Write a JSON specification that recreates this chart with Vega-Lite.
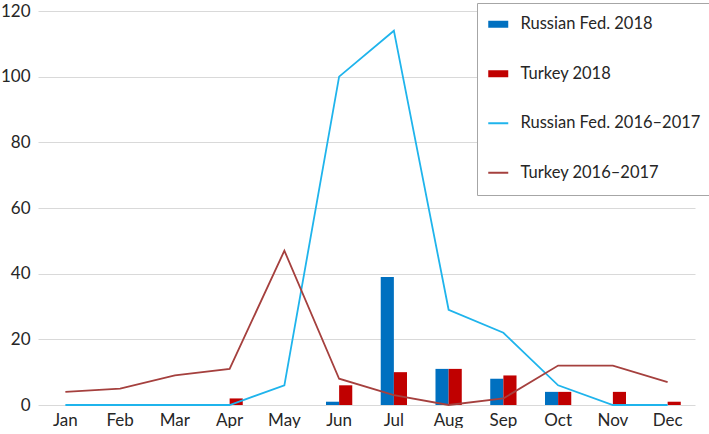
{
  "$schema": "https://vega.github.io/schema/vega-lite/v6.json",
  "width": 657,
  "height": 394,
  "padding": {"left": 0, "top": 2, "right": 0, "bottom": 0},
  "background": "white",
  "config": {"font": "Lato", "view": {"stroke": null}},
  "datasets": {
    "bars": [
      {"month": "Jan", "series": "Russian Fed. 2018", "value": 0},
      {"month": "Jan", "series": "Turkey 2018", "value": 0},
      {"month": "Feb", "series": "Russian Fed. 2018", "value": 0},
      {"month": "Feb", "series": "Turkey 2018", "value": 0},
      {"month": "Mar", "series": "Russian Fed. 2018", "value": 0},
      {"month": "Mar", "series": "Turkey 2018", "value": 0},
      {"month": "Apr", "series": "Russian Fed. 2018", "value": 0},
      {"month": "Apr", "series": "Turkey 2018", "value": 2},
      {"month": "May", "series": "Russian Fed. 2018", "value": 0},
      {"month": "May", "series": "Turkey 2018", "value": 0},
      {"month": "Jun", "series": "Russian Fed. 2018", "value": 1},
      {"month": "Jun", "series": "Turkey 2018", "value": 6},
      {"month": "Jul", "series": "Russian Fed. 2018", "value": 39},
      {"month": "Jul", "series": "Turkey 2018", "value": 10},
      {"month": "Aug", "series": "Russian Fed. 2018", "value": 11},
      {"month": "Aug", "series": "Turkey 2018", "value": 11},
      {"month": "Sep", "series": "Russian Fed. 2018", "value": 8},
      {"month": "Sep", "series": "Turkey 2018", "value": 9},
      {"month": "Oct", "series": "Russian Fed. 2018", "value": 4},
      {"month": "Oct", "series": "Turkey 2018", "value": 4},
      {"month": "Nov", "series": "Russian Fed. 2018", "value": 0},
      {"month": "Nov", "series": "Turkey 2018", "value": 4},
      {"month": "Dec", "series": "Russian Fed. 2018", "value": 0},
      {"month": "Dec", "series": "Turkey 2018", "value": 1}
    ],
    "lines": [
      {"month": "Jan", "series": "Russian Fed. 2016–2017", "value": 0},
      {"month": "Feb", "series": "Russian Fed. 2016–2017", "value": 0},
      {"month": "Mar", "series": "Russian Fed. 2016–2017", "value": 0},
      {"month": "Apr", "series": "Russian Fed. 2016–2017", "value": 0},
      {"month": "May", "series": "Russian Fed. 2016–2017", "value": 6},
      {"month": "Jun", "series": "Russian Fed. 2016–2017", "value": 100},
      {"month": "Jul", "series": "Russian Fed. 2016–2017", "value": 114},
      {"month": "Aug", "series": "Russian Fed. 2016–2017", "value": 29},
      {"month": "Sep", "series": "Russian Fed. 2016–2017", "value": 22},
      {"month": "Oct", "series": "Russian Fed. 2016–2017", "value": 6},
      {"month": "Nov", "series": "Russian Fed. 2016–2017", "value": 0},
      {"month": "Dec", "series": "Russian Fed. 2016–2017", "value": 0},
      {"month": "Jan", "series": "Turkey 2016–2017", "value": 4},
      {"month": "Feb", "series": "Turkey 2016–2017", "value": 5},
      {"month": "Mar", "series": "Turkey 2016–2017", "value": 9},
      {"month": "Apr", "series": "Turkey 2016–2017", "value": 11},
      {"month": "May", "series": "Turkey 2016–2017", "value": 47},
      {"month": "Jun", "series": "Turkey 2016–2017", "value": 8},
      {"month": "Jul", "series": "Turkey 2016–2017", "value": 3},
      {"month": "Aug", "series": "Turkey 2016–2017", "value": 0},
      {"month": "Sep", "series": "Turkey 2016–2017", "value": 2},
      {"month": "Oct", "series": "Turkey 2016–2017", "value": 12},
      {"month": "Nov", "series": "Turkey 2016–2017", "value": 12},
      {"month": "Dec", "series": "Turkey 2016–2017", "value": 7}
    ]
  },
  "layer": [
    {
      "data": {"name": "bars"},
      "mark": {"type": "bar"},
      "encoding": {
        "x": {
          "field": "month", "type": "nominal",
          "sort": ["Jan","Feb","Mar","Apr","May","Jun","Jul","Aug","Sep","Oct","Nov","Dec"],
          "scale": {"paddingInner": 0.52, "paddingOuter": 0.26},
          "axis": {"title": null, "labelAngle": 0, "domain": false, "ticks": false, "grid": false,
                   "labelFontSize": 17, "labelColor": "#262626", "labelPadding": 7}
        },
        "xOffset": {"field": "series", "type": "nominal", "sort": ["Russian Fed. 2018", "Turkey 2018"]},
        "y": {
          "field": "value", "type": "quantitative",
          "scale": {"domain": [0, 120], "nice": false},
          "axis": {"title": null, "values": [0,20,40,60,80,100,120], "domain": false, "ticks": false,
                   "grid": true, "gridColor": "#d9d9d9", "gridWidth": 1,
                   "labelFontSize": 17, "labelColor": "#262626", "labelPadding": 8}
        },
        "color": {
          "field": "series", "type": "nominal",
          "scale": {
            "domain": ["Russian Fed. 2018", "Turkey 2018", "Russian Fed. 2016–2017", "Turkey 2016–2017"],
            "range": ["#0070C0", "#C00000", "#1FB4EC", "#A5403E"]
          },
          "legend": {
            "title": null, "orient": "none", "legendX": 439, "legendY": -8, "direction": "vertical",
            "strokeColor": "#a6a6a6", "fillColor": "white", "padding": 13,
            "labelFontSize": 16.5, "labelColor": "#262626", "labelOffset": 14, "labelLimit": 400,
            "rowPadding": 32.5, "symbolSize": 625,
            "encode": {
              "symbols": {
                "update": {
                  "shape": {"signal": "(datum.value == 'Russian Fed. 2018' || datum.value == 'Turkey 2018') ? 'M-0.8,-0.28H0.8V0.28H-0.8Z' : 'M-0.8,0H0.8'"},
                  "fill": {"signal": "(datum.value == 'Russian Fed. 2018' || datum.value == 'Turkey 2018') ? scale('color', datum.value) : 'transparent'"},
                  "stroke": {"signal": "scale('color', datum.value)"},
                  "strokeWidth": {"signal": "(datum.value == 'Russian Fed. 2018' || datum.value == 'Turkey 2018') ? 0 : 2"},
                  "opacity": {"value": 1}
                }
              }
            }
          }
        }
      }
    },
    {
      "data": {"name": "lines"},
      "mark": {"type": "line", "strokeWidth": 1.8},
      "encoding": {
        "x": {"field": "month", "type": "nominal", "sort": ["Jan","Feb","Mar","Apr","May","Jun","Jul","Aug","Sep","Oct","Nov","Dec"]},
        "y": {"field": "value", "type": "quantitative"},
        "color": {"field": "series", "type": "nominal"},
        "order": {"value": null}
      }
    }
  ]
}
